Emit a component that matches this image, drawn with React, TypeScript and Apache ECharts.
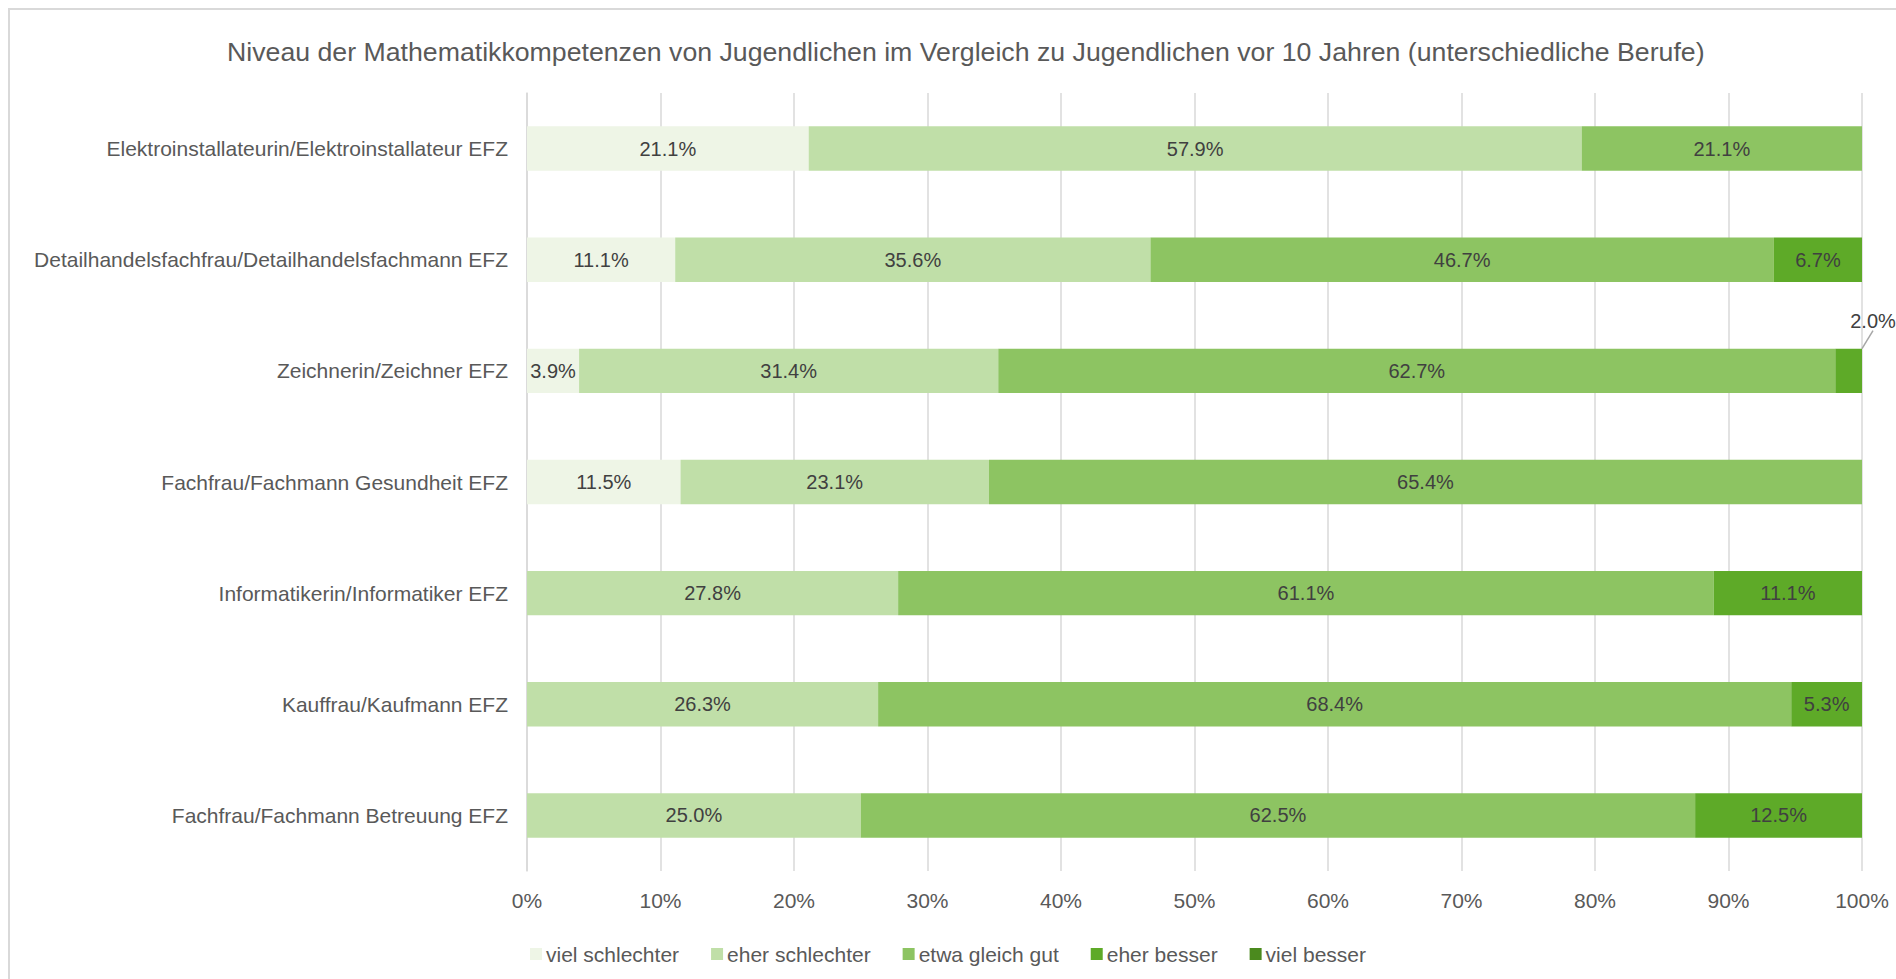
import React, { useEffect, useRef } from "react";
import * as echarts from "echarts";

const titleText =
  "Niveau der Mathematikkompetenzen von Jugendlichen im Vergleich zu Jugendlichen vor 10 Jahren (unterschiedliche Berufe)";

const categories = [
  "Elektroinstallateurin/Elektroinstallateur EFZ",
  "Detailhandelsfachfrau/Detailhandelsfachmann EFZ",
  "Zeichnerin/Zeichner EFZ",
  "Fachfrau/Fachmann Gesundheit EFZ",
  "Informatikerin/Informatiker EFZ",
  "Kauffrau/Kaufmann EFZ",
  "Fachfrau/Fachmann Betreuung EFZ",
];

const seriesNames = ["viel schlechter", "eher schlechter", "etwa gleich gut", "eher besser", "viel besser"];

const vielSchlechter = [21.1, 11.1, 3.9, 11.5, 0, 0, 0];
const eherSchlechter = [57.9, 35.6, 31.4, 23.1, 27.8, 26.3, 25.0];
const etwaGleichGut = [21.1, 46.7, 62.7, 65.4, 61.1, 68.4, 62.5];
const eherBesser = [0, 6.7, 2.0, 0, 11.1, 5.3, 12.5];
const vielBesser = [0, 0, 0, 0, 0, 0, 0];

const xTicks = [0, 10, 20, 30, 40, 50, 60, 70, 80, 90, 100];

const colors = ["#EEF5E6", "#C0DFA8", "#8DC462", "#5EAA28", "#4B8A1E"];

const seriesData = [vielSchlechter, eherSchlechter, etwaGleichGut, eherBesser, vielBesser];

export default function App() {
  const ref = useRef<HTMLDivElement>(null);

  useEffect(() => {
    if (!ref.current) return;
    const chart = echarts.init(ref.current, undefined, { renderer: "svg" });

    const series = seriesData.map((arr, si) => ({
      name: seriesNames[si],
      type: "bar",
      stack: "total",
      barCategoryGap: "60%",
      itemStyle: { color: colors[si] },
      data: arr.map((v) => (v > 0 ? v : null)),
      label: {
        show: true,
        position: "inside",
        color: "#404040",
        fontFamily: "Liberation Sans, Arial, sans-serif",
        fontSize: 20,
        formatter: (p: any) => (p.value ? Number(p.value).toFixed(1) + "%" : ""),
      },
      labelLine: si === 3 ? { show: true, lineStyle: { color: "#a6a6a6", width: 1.5 } } : undefined,
      labelLayout:
        si === 3
          ? (params: any) => {
              if (params.dataIndex === 2) {
                return {
                  x: params.rect.x + params.rect.width + 11,
                  y: params.rect.y - 28,
                  align: "center",
                  verticalAlign: "middle",
                };
              }
              return {};
            }
          : undefined,
    }));

    chart.setOption({
      animation: false,
      backgroundColor: "#ffffff",
      title: {
        text: titleText,
        left: 222,
        top: 33,
        textStyle: {
          color: "#595959",
          fontWeight: "normal",
          fontFamily: "Liberation Sans, Arial, sans-serif",
          fontSize: 26.7,
        },
      },
      legend: {
        data: seriesNames,
        left: "center",
        top: 938,
        itemWidth: 12,
        itemHeight: 12,
        itemGap: 32,
        icon: "rect",
        textStyle: {
          color: "#595959",
          fontFamily: "Liberation Sans Narrow, Arial Narrow, sans-serif",
          fontSize: 21,
          lineHeight: 22,
          padding: [0, 0, 0, -1],
        },
      },
      grid: { left: 527, right: 34, top: 93, bottom: 108 },
      xAxis: {
        type: "value",
        min: 0,
        max: 100,
        interval: 10,
        axisLine: { show: false },
        axisTick: { show: false },
        splitLine: { show: true, lineStyle: { color: "#d9d9d9", width: 1.5 } },
        axisLabel: {
          margin: 19,
          color: "#595959",
          fontFamily: "Liberation Sans Narrow, Arial Narrow, sans-serif",
          fontSize: 21,
          formatter: (v: number) => (xTicks.includes(v) ? v + "%" : ""),
        },
      },
      yAxis: {
        type: "category",
        inverse: true,
        data: categories,
        axisLine: { show: true, lineStyle: { color: "#d9d9d9", width: 1.5 } },
        axisTick: { show: false },
        axisLabel: {
          margin: 19,
          color: "#595959",
          fontFamily: "Liberation Sans, Arial, sans-serif",
          fontSize: 21,
        },
      },
      series,
      graphic: [
        {
          type: "rect",
          shape: { x: 9, y: 9, width: 1900, height: 1000 },
          style: { fill: "none", stroke: "#d9d9d9", lineWidth: 2 },
          silent: true,
        },
      ],
    });

    return () => chart.dispose();
  }, []);

  return (
    <div
      ref={ref}
      style={{ position: "fixed", left: 0, top: 0, width: 1896, height: 979 }}
    />
  );
}
